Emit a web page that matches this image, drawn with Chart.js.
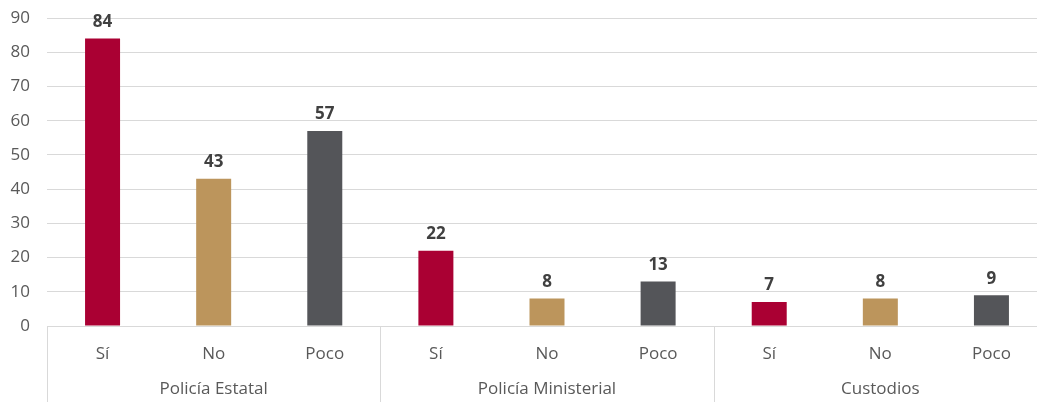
<!DOCTYPE html>
<html>
<head>
<meta charset="UTF-8">
<title>Policía</title>
<style>
  html, body { margin: 0; padding: 0; background: #fff; overflow: hidden; }
  #wrap { width: 1050px; height: 402px; }
</style>
</head>
<body>
<div id="wrap">
  <canvas id="barChart" width="1050" height="402"></canvas>
</div>

<script src="https://cdn.jsdelivr.net/npm/chart.js"></script>
<script>
  // grupos y respuestas
  const grupos = ['Policía Estatal', 'Policía Ministerial', 'Custodios'];
  const respuestas = ['Sí', 'No', 'Poco'];

  // valores por respuesta (un valor por grupo)
  const si   = [84, 22, 7];
  const no   = [43, 8, 8];
  const poco = [57, 13, 9];

  const yTicks = [0, 10, 20, 30, 40, 50, 60, 70, 80, 90];
  const colores = ['#AA0033', '#BC955C', '#545559'];

  // armar etiquetas y valores planos
  const labels = [];
  const valores = [];
  const fondo = [];
  grupos.forEach(function(g, i){
    [si, no, poco].forEach(function(serie, j){
      labels.push(respuestas[j]);
      valores.push(serie[i]);
      fondo.push(colores[j]);
    });
  });

  const fuente = "'Open Sans', sans-serif";

  // etiquetas de valor encima de cada barra
  const valorPlugin = {
    id: 'valores',
    afterDatasetsDraw(chart){
      const ctx = chart.ctx;
      const meta = chart.getDatasetMeta(0);
      ctx.save();
      ctx.font = "bold 17px " + fuente;
      ctx.fillStyle = '#404040';
      ctx.textAlign = 'center';
      ctx.textBaseline = 'bottom';
      meta.data.forEach(function(bar, i){
        ctx.fillText(valores[i], bar.x, bar.y - 8);
      });
      ctx.restore();
    }
  };

  // segundo nivel del eje x: grupos y separadores
  const gruposPlugin = {
    id: 'grupos',
    afterDraw(chart){
      const ctx = chart.ctx;
      const x = chart.scales.x;
      const area = chart.chartArea;
      const paso = (area.right - area.left) / grupos.length;
      ctx.save();
      ctx.strokeStyle = '#d9d9d9';
      ctx.lineWidth = 1;
      for (let i = 0; i <= grupos.length; i++) {
        const px = Math.round(area.left + paso * i) + 0.5;
        ctx.beginPath();
        ctx.moveTo(px, area.bottom);
        ctx.lineTo(px, chart.height);
        ctx.stroke();
      }
      ctx.font = "17px " + fuente;
      ctx.fillStyle = '#595959';
      ctx.textAlign = 'center';
      ctx.textBaseline = 'middle';
      grupos.forEach(function(g, i){
        const c = (x.getPixelForValue(i * 3) + x.getPixelForValue(i * 3 + 2)) / 2;
        ctx.fillText(g, c, 389);
      });
      ctx.restore();
    }
  };

  const ctx = document.getElementById('barChart').getContext('2d');
  const barChart = new Chart(ctx, {
    type: 'bar',
    data: {
      labels: labels,
      datasets: [{
        data: valores,
        backgroundColor: fondo,
        barPercentage: 0.315,
        categoryPercentage: 1
      }]
    },
    options: {
      responsive: false,
      animation: false,
      layout: { padding: { top: 0, right: 3, left: 0, bottom: 0 } },
      plugins: {
        legend: { display: false },
        tooltip: { enabled: false }
      },
      scales: {
        x: {
          grid: { display: false },
          border: { display: false },
          ticks: {
            color: '#595959',
            font: { family: fuente, size: 17 },
            padding: 10,
            maxRotation: 0
          },
          afterFit(scale){ scale.height = 76; }
        },
        y: {
          min: 0,
          max: 90,
          afterBuildTicks(scale){ scale.ticks = yTicks.map(v => ({ value: v })); },
          grid: { color: '#d9d9d9', drawTicks: false },
          border: { display: false },
          ticks: {
            color: '#595959',
            font: { family: fuente, size: 17 },
            padding: 17
          },
          afterFit(scale){ scale.width = 47; scale.paddingTop = 18; }
        }
      }
    },
    plugins: [valorPlugin, gruposPlugin]
  });
</script>
</body>
</html>
